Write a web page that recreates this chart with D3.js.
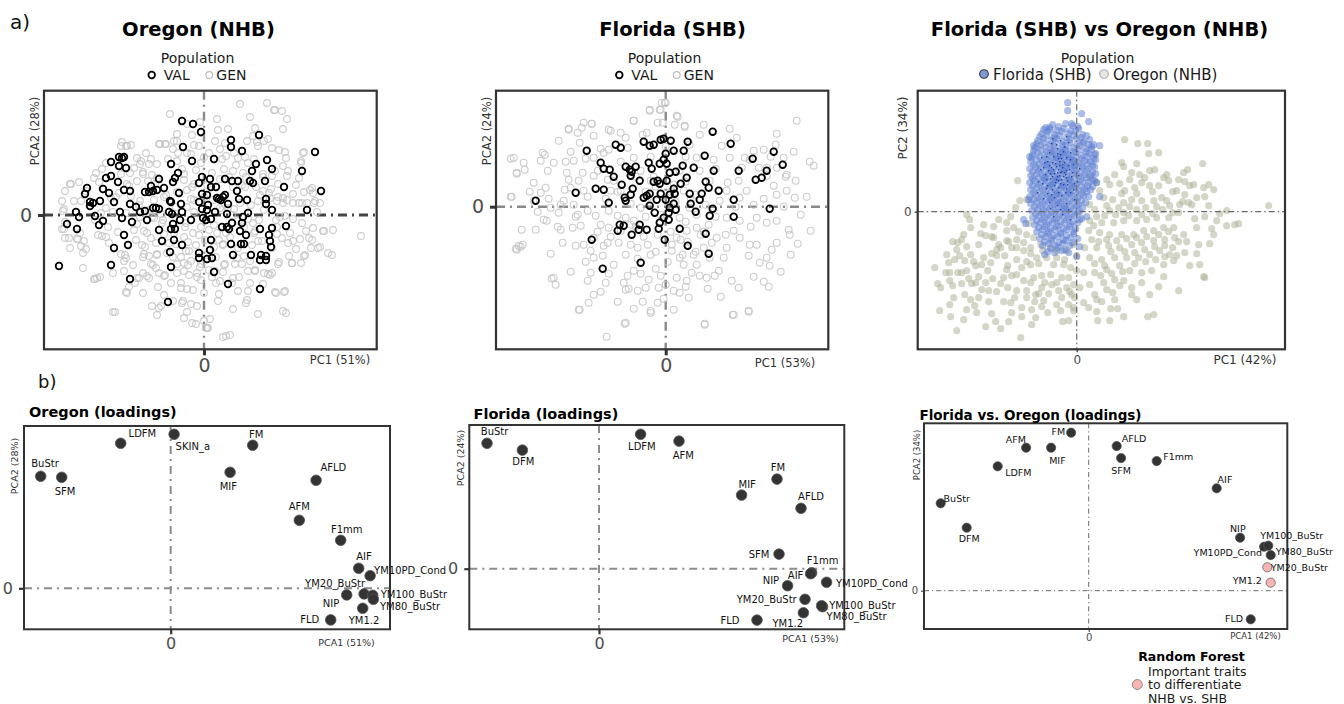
<!DOCTYPE html>
<html>
<head>
<meta charset="utf-8">
<script src="https://cdn.jsdelivr.net/npm/d3@7"></script>
<style>
  body { margin: 0; background: #fff; }
  svg { font-family: "DejaVu Sans", sans-serif; }
</style>
</head>
<body>
<svg id="fig" width="1344" height="704"></svg>
<script>
// ---------------- PCA scores: Oregon (NHB) ----------------
const oregonVAL = [[-2.2,9.4],[-1.1,9.1],[-0.3,8.3],[2.7,7.5],[2.7,6.8],[3.8,6.4],[5.5,8.0],[11.1,6.3],[-2.1,6.8],[1.0,5.6],[-1.2,5.4],[-3.3,5.1],[-9.3,5.3],[-8.5,5.8],[-8.2,5.7],[-8.0,5.8],[-7.8,4.7],[-8.5,4.9],[6.3,5.5],[5.2,5.1],[6.8,4.6],[4.8,4.4],[9.8,4.4],[11.7,2.4],[-9.8,3.7],[-9.3,3.9],[-8.6,3.3],[-11.7,2.7],[-11.9,2.1],[-10.1,2.6],[-9.5,2.2],[-10.4,1.4],[-9.0,1.3],[-8.0,2.5],[-7.4,2.4],[-7.4,1.1],[-11.4,1.3],[-11.1,1.2],[-11.4,0.9],[-12.8,0.3],[-12.5,-0.2],[-10.9,-0.1],[-13.7,-0.9],[-12.7,-1.4],[-10.5,-1.0],[-10.1,-0.6],[-8.4,0.3],[-8.2,-0.3],[-7.2,-0.7],[-6.8,0.8],[-6.4,0.3],[-5.9,0.4],[-5.7,-0.5],[-5.9,2.3],[-5.5,2.3],[-5.1,2.4],[-4.7,2.5],[-5.3,2.9],[-4.5,3.6],[-4.0,2.7],[-3.1,3.3],[-2.6,4.2],[-2.9,3.7],[-2.5,2.2],[-3.4,1.4],[-3.3,1.3],[-2.3,1.1],[-5.1,0.7],[-4.8,0.7],[-4.5,0.6],[-3.5,0.3],[-3.2,0.1],[-2.2,0.3],[-2.4,-0.5],[-3.1,-0.9],[-3.3,-1.4],[-2.9,-1.4],[-4.5,-1.5],[-4.2,-2.6],[-3.0,-2.5],[-2.2,-3.0],[-3.4,-3.7],[-1.3,-0.5],[-0.5,3.2],[-0.2,3.8],[0.6,3.6],[1.2,2.8],[0.7,2.8],[-0.2,2.1],[0.3,2.0],[-0.5,1.3],[0.4,1.0],[-0.2,0.6],[0.3,0.5],[1.1,0.3],[-0.1,-0.3],[0.2,-0.5],[0.7,-0.4],[1.3,1.7],[1.5,1.6],[1.7,1.5],[1.9,1.8],[2.1,2.0],[2.4,1.1],[2.3,0.1],[2.1,3.6],[2.8,3.4],[3.4,3.4],[4.6,3.4],[4.9,3.2],[6.1,3.4],[8.0,2.8],[3.3,2.4],[3.5,1.6],[4.3,1.5],[6.2,1.6],[6.2,1.1],[6.8,0.5],[4.4,0.2],[3.9,-0.2],[3.8,-0.8],[2.8,-0.8],[1.8,-1.2],[2.3,-1.2],[2.5,-1.4],[3.6,-1.6],[4.2,-2.0],[5.6,-1.4],[6.8,-1.3],[8.2,-1.1],[10.3,0.5],[4.0,-2.9],[2.7,-2.9],[3.7,-2.9],[4.7,-4.0],[2.9,-4.0],[5.7,-4.0],[6.2,-4.1],[6.2,-4.5],[5.6,-4.5],[6.5,-2.0],[6.6,-2.6],[6.7,-3.2],[0.7,-2.5],[0.6,-3.5],[-0.5,-3.8],[-0.5,-4.3],[0.3,-4.4],[0.8,-4.3],[1.0,-5.7],[2.4,-6.9],[5.6,-7.4],[-3.3,-5.2],[-3.6,-8.7],[-7.4,-6.4],[-9.3,-5.0],[-9.0,-3.3],[-7.6,-3.0],[-8.0,-2.0],[-14.5,-5.1]];

const oregonGEN = [[3.6,11.1],[6.3,11.2],[-3.4,10.1],[4.6,9.8],[7.1,10.5],[7.8,10.4],[8.3,9.6],[7.9,8.6],[5.1,8.7],[1.3,9.6],[2.4,8.6],[-0.4,9.3],[-1.2,8.0],[-2.7,7.4],[-3.1,6.6],[-4.4,7.1],[-3.9,7.1],[-5.8,6.2],[-8.3,6.9],[-7.8,6.9],[-7.3,7.0],[-6.7,5.7],[-6.4,5.1],[-5.5,5.1],[-4.7,5.1],[-7.0,4.7],[-7.4,4.2],[-6.1,4.1],[-10.8,4.2],[-10.5,3.3],[-12.5,3.3],[-13.4,3.1],[-13.9,2.4],[-14.2,1.4],[-14.1,0.4],[-13.9,-0.7],[-14.2,-1.4],[-13.9,-2.3],[-13.4,-3.3],[-12.6,-2.4],[-12.3,-3.1],[-12.1,-3.8],[-12.1,-5.3],[-10.4,-6.2],[-10.9,-6.4],[-9.1,-5.8],[-7.7,-7.8],[-7.5,-7.2],[-6.9,-6.8],[-6.7,-6.3],[-6.1,-7.8],[-5.7,-6.1],[-4.0,-8.0],[-2.1,-8.6],[-3.1,-8.6],[-5.2,-9.1],[-4.3,-9.1],[-9.1,-9.7],[-8.9,-9.7],[-1.7,-9.7],[-1.2,-10.8],[0.0,-10.6],[0.3,-11.3],[0.6,-10.4],[2.2,-12.1],[2.6,-12.0],[2.9,-9.4],[4.2,-8.8],[5.4,-9.9],[7.9,-9.6],[8.2,-9.8],[7.2,-7.8],[8.0,-7.7],[8.8,-4.8],[9.7,-4.8],[10.1,-4.0],[12.8,-4.0],[12.4,-3.8],[10.8,-2.5],[10.7,-3.3],[10.2,-1.6],[12.0,-1.6],[11.3,0.3],[11.6,1.2],[8.9,1.2],[9.5,1.2],[9.8,1.2],[11.0,1.2],[15.7,-2.1],[8.3,3.9],[9.2,3.0],[10.0,2.3],[10.6,2.5],[10.0,6.3],[9.7,5.2],[8.2,5.7],[8.1,6.3],[6.8,6.7],[6.0,7.4],[5.3,7.3],[4.9,7.9],[4.1,5.8],[3.2,5.0],[2.2,5.9],[1.8,5.6],[0.5,6.2],[0.0,5.8],[-0.3,5.2],[-1.7,6.2],[-2.2,4.6],[-4.9,3.1],[-5.6,3.4],[-7.7,3.1],[-7.3,1.9],[-6.4,1.4],[-9.1,0.3],[-10.3,0.2],[-10.9,-0.5],[-12.4,-1.8],[-10.6,-2.0],[-9.8,-2.2],[-8.6,-1.7],[-7.9,-4.0],[-7.1,-5.0],[-6.1,-4.2],[-5.5,-4.1],[-4.7,-4.0],[-5.1,-5.0],[-3.9,-6.0],[-2.7,-5.8],[-2.3,-6.8],[-1.1,-7.5],[0.0,-7.8],[1.5,-7.9],[1.2,-6.8],[1.9,-5.7],[2.9,-6.3],[3.5,-6.2],[4.4,-5.6],[5.1,-5.5],[6.0,-5.8],[6.6,-6.0],[7.5,-4.7],[8.5,-4.1],[9.2,-3.4],[9.6,-2.4],[8.6,-1.8],[7.3,-1.2],[7.6,-0.2],[7.9,1.2],[7.4,1.8],[6.7,2.6],[5.6,2.0],[4.7,1.0],[4.9,-0.8],[5.0,-1.8],[4.0,-4.1],[1.9,-3.0],[1.3,-1.8],[-1.1,-1.8],[-1.6,-2.7],[-1.5,-3.6],[-2.3,-4.2],[-3.1,-4.2],[-3.7,-3.8],[-4.8,-2.8],[-5.7,-1.8],[-6.4,-0.2],[-5.2,-0.2],[-4.1,-0.5],[-1.7,0.8],[-1.0,1.5],[-1.7,2.5],[-1.2,2.8],[-2.7,2.3],[3.6,1.2],[1.6,0.7],[2.9,2.8],[3.9,4.2],[5.9,3.8],[8.3,1.5],[10.9,2.2],[12.9,-1.5],[11.6,-3.2],[0.1,-2.5],[-0.4,-5.2],[-0.7,-6.2],[0.5,-5.5],[-1.6,-5.0],[-4.6,-7.2],[-6.1,-5.8],
[7.0,10.5],[1.4,8.5],[6.4,7.6],[4.3,7.4],[5.4,6.9],[7.5,6.5],[9.9,6.2],[9.7,5.4],[8.4,4.4],[9.5,3.7],[10.8,2.7],[8.9,2.1],[7.9,1.7],[7.3,1.4],[10.3,1.2],[11.1,1.4],[9.8,-0.8],[10.9,-1.3],[11.9,-1.6],[11.4,-3.3],[10.5,-2.3],[10.0,-4.1],[8.8,-4.8],[7.4,-4.9],[8.1,-7.6],[1.9,-12.2],[0.4,-11.3],[1.4,-8.6],[4.3,-8.5],[4.4,-7.6],[7.1,-7.7],[3.4,-7.6],[2.8,-6.8],[1.6,-6.6],[6.4,-5.9],[5.9,-6.9],[5.1,-5.6],[3.8,-4.9],[4.6,-4.6],[3.1,-4.9],[6.8,-5.8],[7.8,-2.3],[8.4,-2.8],[8.9,-2.6],[7.3,-1.9],[8.1,-0.1],[8.9,-0.4],[6.6,1.7],[5.9,2.4],[7.4,3.1],[7.9,4.9],[7.1,4.4],[5.9,4.1],[1.1,7.4],[2.1,7.2],[3.4,5.7],[4.4,5.2],[2.9,4.4],[1.6,3.6],[4.1,2.8],[5.4,1.4],[2.4,0.7],[4.4,-0.4],[5.4,-2.6],[1.9,-2.9],[0.8,-4.3],[2.1,-4.9],[1.1,-5.6],[3.4,-3.3],[5.1,-1.6],[6.8,-3.3],
[-8.2,7.3],[-7.7,6.9],[-4.5,7.1],[-3.8,7.1],[-3.0,7.4],[-5.3,5.6],[-6.3,5.4],[-6.1,4.3],[-9.8,5.2],[-10.2,4.6],[-11.0,3.7],[-13.3,3.1],[-11.8,2.4],[-13.0,1.4],[-14.0,0.6],[-12.3,1.4],[-9.8,0.7],[-9.3,1.7],[-8.5,2.2],[-7.5,2.9],[-14.0,-1.4],[-13.5,-2.3],[-12.0,-2.6],[-12.7,-2.4],[-11.8,-3.4],[-10.2,-2.1],[-9.5,-2.8],[-11.0,-6.4],[-10.7,-6.3],[-8.3,-3.9],[-7.8,-4.3],[-8.0,-4.6],[-8.0,-5.6],[-7.8,-7.7],[-6.5,-6.3],[-5.5,-6.3],[-4.5,-5.8],[-4.0,-6.1],[-5.3,-4.9],[-6.0,-3.9],[-4.7,-3.9],[-3.3,-6.8],[-2.3,-7.3],[-1.7,-7.4],[-1.3,-8.9],[-0.7,-9.1],[-2.2,-8.8],[-4.5,-9.3],[-4.7,-10.0],[-2.0,-10.3],[-0.8,-10.9],[0.2,-11.3],[-6.7,-0.9],[-6.0,-1.6],[-5.3,-2.3],[-4.0,-1.9],[-5.0,-0.3],[-4.3,0.1],[-2.8,-2.9],[-1.8,-3.6],[-1.3,-4.6],[-0.3,-4.9],[-0.7,-5.8],[-2.0,-5.6],[-2.7,-4.9],[-2.0,4.1],[-1.0,3.1],[-2.7,5.4],[-1.3,6.1],[-0.5,6.9],[-0.3,8.2],[-1.7,9.1],[-2.7,8.1],[-6.7,3.4],[-4.7,3.7],[-8.3,4.1],
[0.5,-1.5],[-1.0,0.3],[1.5,-2.5],[-0.8,-3.0],[2.2,-1.8],[0.9,1.5],[-1.9,-1.2],[3.0,0.6],[-0.3,-6.5],[1.2,-4.2],
[-6.5,1.0],[-5.0,1.5],[-3.8,2.0],[-2.0,3.5],[-0.8,4.5],[0.8,4.2],[2.5,3.8],[3.8,3.0],[5.2,2.8],[6.0,0.5],[5.5,-0.5],[4.0,-1.2],[2.6,-2.2],[1.0,-3.2],[-0.5,-2.0],[-1.8,-0.8],[-3.0,-1.8],[-4.2,-0.8],[-5.5,0.5],[-6.8,-2.5],[-5.9,-3.2],[-3.5,-2.8],[-2.0,-4.8],[0.2,-4.0],[2.0,-5.0],[3.3,-4.3],[4.8,-3.0],[5.8,-2.6],[7.2,-0.5],[6.5,2.2],[4.2,3.8],[2.0,4.6],[0.3,3.0],[-1.3,1.6],[-2.8,0.8],[-4.0,1.8],[-5.2,4.0],[-3.6,5.6],[-1.0,7.0],[1.6,6.6],[3.0,6.2],[-7.0,-1.5],[-8.8,1.8],[-9.6,-1.2],[-7.8,0.2],[0.0,1.8],[1.0,-1.0],[2.8,0.0],[-0.3,-1.2],[1.8,0.5],[3.4,-0.6],[-2.0,-2.2],[-1.5,-6.0],[0.8,-6.2],[4.6,-6.8],[-4.8,-5.3],[-6.2,-3.0],[-2.6,6.2],[5.0,5.6],[6.8,3.9]];

// ---------------- PCA scores: Florida (SHB) ----------------
const floridaVAL = [[4.7,7.5],[-2.2,6.5],[-1.6,6.1],[-1.2,6.2],[-0.5,6.7],[-0.2,6.8],[0.5,6.6],[2.2,6.5],[6.5,6.3],[-5.0,6.2],[-4.5,5.9],[-7.9,5.6],[0.0,5.3],[0.8,5.6],[1.8,5.6],[3.9,5.1],[8.7,4.8],[10.8,5.5],[11.7,4.2],[-6.5,4.4],[-6.2,3.8],[-5.6,3.7],[-5.2,3.0],[-4.0,4.0],[-3.6,3.7],[-3.4,3.5],[-3.5,3.1],[-3.0,4.0],[-2.6,2.6],[-1.7,4.4],[-1.4,3.8],[-0.6,4.3],[0.1,4.3],[-0.2,4.7],[0.4,3.4],[1.0,3.5],[1.7,4.1],[2.8,3.9],[4.8,3.6],[7.3,3.6],[10.1,3.6],[9.6,2.9],[9.0,2.7],[-4.4,2.2],[-7.0,1.8],[-6.2,1.7],[-9.0,1.4],[-13.0,0.6],[-5.7,0.4],[-4.1,0.9],[-4.0,0.6],[-3.5,1.2],[-3.3,1.8],[-2.2,0.9],[-1.9,1.1],[-1.6,1.3],[-1.2,2.5],[-0.8,2.6],[-0.6,2.3],[0.1,2.6],[-0.5,1.3],[0.0,0.7],[0.4,1.2],[0.8,1.8],[0.9,1.3],[1.5,2.3],[2.1,2.9],[0.8,0.3],[0.4,-0.1],[1.0,-0.3],[0.3,-0.6],[0.3,-1.3],[-0.2,-1.1],[-0.6,-1.6],[-0.7,-2.2],[-1.1,-0.6],[-1.6,0.1],[-0.9,0.7],[2.4,1.3],[2.5,0.3],[3.0,-0.5],[3.4,0.7],[3.6,1.3],[4.0,2.5],[4.3,1.9],[5.3,1.6],[4.7,-0.2],[4.4,-0.9],[6.8,0.7],[6.8,-1.0],[10.4,-0.2],[1.4,-2.2],[4.0,-2.7],[-0.1,-3.3],[2.2,-3.9],[4.3,-4.7],[-4.8,-2.4],[-4.6,-1.8],[-4.2,-1.9],[-3.4,-2.8],[-2.6,-1.8],[-2.7,-2.3],[-1.9,-2.3],[-7.4,-3.3],[-6.3,-6.2],[-2.5,-5.6]];

const floridaGEN = [[-15.2,4.9],[-14.2,4.4],[-14.9,3.4],[-14.1,3.7],[-15.5,1.0],[-13.2,2.4],[-12.3,5.4],[-12.1,5.2],[-12.5,4.6],[-11.2,4.4],[-11.8,3.6],[-12.0,1.9],[-12.5,1.4],[-13.2,0.6],[-11.7,0.8],[-11.5,-0.1],[-12.2,-1.3],[-11.9,-1.4],[-13.0,-2.3],[-14.4,-2.3],[-14.3,-3.8],[-14.9,-4.3],[-14.7,-3.9],[-11.5,-4.7],[-10.5,-2.3],[-10.3,-3.6],[-10.7,-0.6],[-10.2,0.6],[-10.1,1.7],[-9.7,2.7],[-9.9,3.4],[-10.0,4.5],[-10.7,6.6],[-9.7,7.7],[-8.8,7.4],[-8.4,7.9],[-8.2,8.4],[-7.4,8.3],[-7.2,7.1],[-8.6,6.4],[-9.2,4.6],[-8.3,3.4],[-8.7,2.6],[-9.2,0.2],[-8.8,-0.8],[-8.5,-1.9],[-9.3,-2.1],[-9.0,-3.9],[-8.2,-3.8],[-7.5,-4.4],[-7.2,-5.1],[-6.3,-4.9],[-6.2,-3.9],[-5.8,-3.6],[-7.2,-3.1],[-6.5,-1.8],[-7.8,-0.4],[-7.0,-0.9],[-5.7,-0.4],[-4.8,-0.9],[-4.0,-1.1],[-3.5,-1.8],[-4.5,-2.4],[-5.7,-2.1],[-4.7,-3.6],[-3.5,-3.8],[-2.8,-4.1],[-1.8,-3.8],[-1.5,-4.8],[-2.5,-5.6],[-3.2,-6.4],[-3.8,-6.9],[-4.2,-7.6],[-5.2,-5.8],[-5.7,-6.7],[-7.5,-6.6],[-7.8,-7.4],[-6.0,-7.6],[-7.2,-8.8],[-7.7,-9.6],[-8.7,-10.3],[-11.2,-7.1],[-11.0,-7.8],[-11.4,-7.2],[-4.0,-8.3],[-3.7,-8.2],[-2.8,-8.4],[-2.3,-9.5],[-1.5,-10.4],[-0.8,-9.6],[-4.0,-11.6],[-5.9,-13.0],[-2.0,-8.1],[-1.7,-7.3],[-0.7,-8.1],[-0.5,-6.9],[-2.5,-6.7],[-3.2,-1.4],[-2.5,-0.1],[-1.8,0.9],[-1.5,2.6],[-2.5,3.6],[-3.2,4.9],[-3.8,5.9],[-4.0,6.9],[-3.2,8.6],[-2.3,7.2],[-1.9,7.4],[-1.6,9.7],[-0.8,8.4],[-0.3,8.4],[-0.5,9.7],[-5.7,7.7],[-5.5,7.6],[-4.5,7.4],[-5.7,5.7],[-6.2,5.4],[-7.2,4.9],[-6.8,3.6],[-7.2,3.1],[-5.8,2.7],[-5.2,2.6],[-4.5,1.6],[-5.5,1.6],[-8.2,1.6],[-9.5,1.9],[-10.5,0.2],
[13.1,8.6],[11.1,7.3],[11.0,6.2],[14.4,4.5],[14.8,4.1],[13.0,2.6],[12.1,3.2],[12.0,3.0],[14.1,1.0],[12.9,0.9],[12.1,1.6],[11.1,1.2],[10.8,2.1],[10.1,3.1],[11.1,3.9],[11.8,4.9],[10.1,3.9],[9.3,3.9],[8.4,4.7],[7.9,4.9],[7.6,3.9],[8.8,5.6],[9.8,5.7],[7.1,6.9],[6.4,7.8],[5.6,6.1],[4.8,4.7],[6.4,4.9],[7.3,2.6],[8.1,1.6],[7.4,0.9],[8.8,0.2],[9.1,-1.1],[10.1,-1.6],[11.1,-1.4],[12.3,-2.3],[12.4,-2.8],[13.2,-3.7],[14.5,-2.4],[11.1,-3.6],[10.6,-4.3],[10.1,-5.1],[9.1,-3.8],[8.4,-3.8],[7.4,-3.1],[6.8,-2.4],[8.3,-4.9],[9.4,-5.6],[10.4,-5.9],[10.3,-8.0],[8.3,-10.4],[6.8,-10.8],[6.6,-7.4],[7.3,-8.1],[5.3,-6.4],[4.9,-6.9],[4.1,-7.1],[3.4,-6.9],[2.6,-6.6],[2.1,-7.4],[1.1,-7.1],[0.8,-8.4],[1.4,-8.6],[2.3,-9.1],[0.8,-10.3],[3.9,-11.8],[3.1,-5.8],[4.4,-5.1],[5.8,-5.1],[6.1,-4.1],[5.1,-3.1],[3.8,-4.1],[2.8,-4.8],[1.4,-5.1],[0.6,-4.4],[1.1,-3.1],[2.1,-2.4],[3.1,-2.1],[4.3,-1.8],[6.1,-1.1],[7.4,-1.4],[5.4,0.6],[6.1,1.6],[4.4,2.6],[3.4,3.6],[3.1,4.9],[2.4,6.2],[3.8,8.2],[3.4,7.2],[1.9,8.1],[1.1,9.1],[0.9,8.2],[-0.1,10.4],[1.4,3.6],[1.8,1.6],[2.4,-0.1],[3.1,-0.8],[1.4,-1.1],
[8.3,-10.5],[6.7,-10.8],[3.9,-11.7],[-4.1,-11.7],[-8.6,-10.3],[-1.5,-10.6],[-0.4,10.4],[0.0,10.4],[-1.6,9.6],[-0.6,9.7],[1.2,9.0],[1.9,8.0],[-3.2,8.6],[-9.7,7.8],[-7.4,8.3],[-15.5,4.8],[-14.9,3.3],[-15.4,1.0],[-15.0,-4.2],[-14.5,-4.0],
[-0.5,-1.5],[0.5,-2.5],[1.5,-3.3],[-1.0,-4.5],[0.2,-5.5],[2.0,-1.5],[1.0,0.5],[-2.0,1.5],[-3.0,-2.0],[2.5,0.8],[-1.2,3.0],[0.8,2.2],[3.5,-2.8],[-2.2,-3.0],[1.7,-4.8],
[-1.0,2.0],[0.5,1.5],[2.0,2.5],[3.0,1.2],[4.0,0.2],[5.0,-1.0],[3.8,-2.5],[2.2,-3.5],[0.6,-3.8],[-0.8,-2.8],[-2.0,-1.0],[-3.5,0.3],[-4.8,1.5],[-6.0,0.8],[-6.8,-2.5],[-5.5,-3.0],[-4.0,-4.8],[-2.8,-5.2],[-1.0,-6.2],[0.0,-7.8],[1.8,-5.8],[3.0,-4.5],[4.6,-3.6],[6.0,-2.8],[7.0,0.0],[6.2,2.4],[5.0,3.8],[2.0,5.0],[0.0,6.0],[-1.5,5.0],[-3.0,3.0],[-4.5,4.5],[-6.5,5.8],[-8.0,4.8],[-9.5,5.5],[-7.8,1.0],[-9.0,-1.0],[-10.8,-2.0],[-12.8,-0.5],[-13.6,1.5],[-8.0,-5.5],[-9.5,-6.5],[-6.5,-8.5],[-4.8,-9.5],[-3.2,-10.2],[-0.2,-9.2],[2.0,-8.0],[4.2,-8.2],[5.5,-9.0],[8.8,-7.0],[9.8,-7.5],[11.5,-6.5],[12.5,-4.8],[13.5,-0.8],[11.8,0.0],[9.8,0.8],[8.5,-2.0],[10.5,5.0],[12.8,5.5],[-0.5,-0.8]];

// ---------------- PCA scores: both regions together ----------------
const combinedOregon = [[-5.9,3.1],[-5.7,1.1],[-5.0,1.2],[-6.1,0.4],[-11.0,-0.3],[-10.7,-0.8],[-9.3,-1.3],[-10.6,-1.6],[-8.5,-2.5],[-11.3,-2.3],[-12.4,-3.0],[-12.0,-3.8],[-11.5,-2.8],[-11.0,-3.5],[-10.6,-4.3],[-9.8,-3.3],[-11.7,-4.4],[-12.8,-5.1],[-14.2,-5.6],[-12.7,-6.1],[-13.1,-6.1],[-13.9,-7.2],[-13.6,-7.6],[-12.7,-6.9],[-11.9,-6.1],[-11.5,-6.1],[-12.3,-8.6],[-12.7,-9.3],[-13.7,-9.9],[-12.0,-11.9],[-11.0,-9.8],[-10.0,-10.1],[-10.2,-9.4],[-11.2,-8.3],[-10.5,-7.2],[-9.5,-7.8],[-8.8,-7.9],[-8.0,-8.0],[-9.1,-7.1],[-8.9,-5.9],[-9.5,-5.3],[-8.6,-5.1],[-8.0,-4.4],[-8.0,-3.8],[-7.0,-2.9],[-7.0,-1.9],[-7.0,-1.1],[-6.3,-1.6],[-6.0,-2.8],[-6.5,-3.6],[-7.2,-4.4],[-6.9,-5.4],[-7.3,-6.6],[-6.9,-7.6],[-6.6,-9.1],[-7.3,-9.0],[-8.1,-11.0],[-9.1,-11.5],[-7.6,-11.7],[-6.5,-10.1],[-5.6,-12.6],[-5.5,-9.6],[-4.5,-9.8],[-4.5,-11.3],[-4.1,-10.6],[-4.2,-9.0],[-3.3,-8.9],[-2.9,-10.1],[-1.6,-9.9],[-1.4,-11.0],[-0.8,-10.9],[-0.3,-9.9],[-0.8,-9.3],[-1.8,-7.9],[-2.5,-7.3],[-3.5,-7.6],[-4.1,-8.3],[-5.0,-7.9],[-6.0,-7.9],[-5.3,-6.9],[-4.3,-6.6],[-3.5,-6.4],[-2.6,-6.3],[-1.5,-6.6],[-0.8,-6.6],[-0.5,-8.3],[-0.3,-7.3],[-0.6,-5.6],[-1.3,-5.3],[-2.3,-5.3],[-3.0,-4.6],[-4.0,-4.6],[-4.6,-5.3],[-5.5,-5.6],[-6.0,-4.8],[-5.3,-3.9],[-4.6,-3.6],[-5.3,-3.1],[-6.0,-3.6],[-5.0,-2.3],[-4.3,-2.6],[-3.6,-3.3],[-2.6,-3.6],[-2.0,-3.9],[-1.0,-3.9],[-0.3,-3.3],[-8.3,-2.6],[-7.8,-3.3],[-9.1,-2.4],[-10.1,-5.4],[-11.0,-5.9],[-10.1,-7.1],[-6.0,-6.3],[-6.5,-6.4],
[4.8,7.2],[6.1,6.8],[7.1,6.8],[7.2,5.8],[8.2,5.9],[12.6,4.8],[11.1,4.2],[10.7,3.9],[4.5,4.9],[4.7,4.5],[6.0,4.8],[7.3,4.1],[6.3,3.7],[5.5,3.9],[5.3,3.2],[3.8,3.7],[3.0,3.2],[3.3,2.7],[4.3,2.8],[4.8,2.1],[5.8,2.4],[6.5,2.9],[7.3,2.6],[8.2,2.6],[9.2,3.1],[10.2,3.2],[10.8,3.0],[11.3,2.6],[11.7,2.7],[12.7,2.4],[13.2,2.7],[13.7,2.2],[12.8,1.5],[13.2,0.6],[11.2,0.9],[11.5,0.7],[10.3,0.7],[9.3,0.6],[8.5,1.4],[7.7,1.1],[6.5,1.1],[5.5,1.2],[4.7,0.9],[3.6,1.2],[2.7,1.4],[15.0,0.1],[19.2,0.6],[16.2,-1.2],[15.8,-1.3],[15.0,-1.4],[14.0,-0.9],[13.5,-1.7],[13.7,-2.3],[12.0,-1.6],[12.2,-3.3],[13.3,-3.2],[10.8,-4.1],[11.3,-5.4],[12.3,-5.3],[12.7,-6.5],[12.8,-6.6],[10.2,-7.9],[8.7,-6.5],[8.2,-7.5],[7.3,-8.3],[7.7,-10.3],[7.1,-10.5],[4.7,-10.5],[4.1,-9.7],[3.4,-9.7],[3.3,-10.9],[2.1,-10.9],[2.0,-10.0],[2.5,-9.0],[0.7,-9.1],[1.8,-8.3],[3.6,-8.1],[5.5,-8.3],[5.5,-7.6],[6.5,-7.1],[4.7,-6.9],[3.8,-6.8],[2.7,-7.1],[1.3,-7.3],[0.3,-7.6],[0.7,-6.1],[1.8,-6.1],[3.0,-5.8],[4.3,-5.4],[5.3,-5.9],[6.5,-6.1],[7.5,-5.9],[8.7,-5.3],[9.7,-4.9],[9.3,-4.3],[8.3,-3.9],[7.3,-4.3],[6.2,-4.6],[5.0,-4.6],[3.8,-4.6],[2.5,-4.8],[1.3,-4.6],[0.8,-3.6],[2.0,-3.6],[3.2,-3.4],[4.3,-3.6],[5.5,-3.3],[6.5,-3.1],[7.7,-2.9],[8.8,-2.8],[9.8,-2.6],[10.7,-2.3],[9.7,-1.6],[8.7,-1.6],[7.7,-1.9],[6.7,-1.9],[5.7,-2.3],[4.5,-2.3],[3.3,-2.3],[2.3,-2.1],[1.2,-1.9],[1.3,-0.9],[2.5,-1.1],[3.7,-1.1],[4.7,-0.9],[6.0,-0.9],[7.0,-0.8],[8.0,-0.6],[9.2,-0.6],[10.2,-0.1],[6.0,0.2],[4.7,-0.1],[3.3,0.1],[1.8,0.2],[1.3,0.7],[2.3,2.1],[2.0,2.9],[1.3,3.4],[7.8,4.2],[9.0,3.7],[10.0,2.1],[10.8,1.7],[12.0,1.4],[0.0,-4.4],[0.0,-5.9],[-0.2,-8.6],[-0.3,-9.6],
[2.8,-0.4],[3.9,-0.3],[5.2,-0.4],[6.5,-0.3],[7.6,-0.2],[8.6,0.2],[9.6,-0.1],[2.2,-3.0],[3.0,-2.8],[4.0,-2.9],[5.0,-2.7],[6.0,-2.6],[7.0,-2.5],[8.2,-2.3],[9.2,-2.0],[10.2,-3.0],[1.8,-5.2],[2.8,-5.4],[3.4,-4.0],[4.8,-4.0],[5.8,-4.1],[6.8,-3.8],[7.8,-3.5],[8.8,-3.4],[9.6,-3.6],[10.0,-4.4],[2.4,-6.4],[3.5,-6.2],[4.6,-6.0],[5.8,-5.2],[6.9,-5.0],[7.9,-4.8],[8.8,-4.5],[1.5,-2.8],[1.7,-1.4],[2.0,-0.5],[3.0,0.6],[4.2,0.4],[5.3,0.5],[6.9,0.4],[8.0,0.5],[9.0,1.1],[10.6,1.0],[11.8,-0.7],[12.8,-0.5],[14.3,-0.2],[3.0,-7.8],[4.3,-7.4],[6.0,-8.8],[2.0,-8.8],[1.2,-9.6],[3.8,-8.8],[12.0,-4.2],[11.0,-3.0],[4.5,1.8],[6.0,1.8],[7.6,2.0],[9.6,2.0],[8.7,3.4],[6.8,3.4],
[-12.2,-4.8],[-11.2,-4.9],[-10.3,-5.0],[-9.3,-4.6],[-8.5,-4.2],[-7.6,-3.6],[-6.8,-3.0],[-12.4,-7.4],[-11.5,-7.2],[-10.8,-6.7],[-9.8,-6.5],[-8.4,-6.7],[-7.6,-7.2],[-6.2,-8.6],[-5.0,-8.6],[-3.8,-8.2],[-2.8,-8.2],[-1.5,-8.6],[-4.6,-7.1],[-3.2,-7.1],[-2.0,-7.1],[-1.0,-7.6],[-5.5,-10.5],[-6.8,-11.0],[-8.8,-9.0],[-9.8,-8.6],[-7.0,-5.8],[-5.0,-5.0],[-3.8,-5.2],[-2.0,-4.6],[-1.2,-4.8],[-4.6,-4.2],[-3.4,-3.9],[-7.8,-0.8],[-6.6,-0.5],[-8.3,-1.5],[-9.6,-2.2],[-11.9,-3.1],[-13.0,-4.3],[-10.6,-8.8],[-12.6,-10.5],[-11.3,-10.8],[-8.5,-10.2],[-3.5,-9.5],[-2.0,-9.3],[-0.7,-8.0],[-5.8,-2.0],[-4.8,-1.2]];

const combinedFlorida = [[-3.1,8.4],[-2.4,8.7],[-1.8,8.5],[-1.1,8.8],[-0.4,8.6],[0.2,8.3],
[-3.5,7.8],[-2.9,8.0],[-2.2,7.7],[-1.5,8.0],[-0.8,7.8],[-0.1,8.0],[0.6,7.7],
[-3.9,7.1],[-3.3,7.3],[-2.6,7.1],[-2.0,7.3],[-1.4,7.0],[-0.7,7.2],[0.0,7.3],[0.7,7.0],[1.3,7.2],
[-4.2,6.4],[-3.6,6.6],[-3.0,6.4],[-2.3,6.6],[-1.7,6.3],[-1.1,6.6],[-0.4,6.4],[0.3,6.6],[0.9,6.3],[1.5,6.5],
[-4.4,5.7],[-3.9,5.9],[-3.2,5.7],[-2.6,5.9],[-2.0,5.6],[-1.4,5.9],[-0.8,5.7],[-0.1,5.9],[0.5,5.6],[1.2,5.8],[1.8,5.7],
[-4.6,5.0],[-4.0,5.2],[-3.4,5.0],[-2.8,5.2],[-2.2,4.9],[-1.6,5.2],[-1.0,5.0],[-0.4,5.2],[0.2,4.9],[0.8,5.1],[1.4,5.0],[1.9,5.2],
[-4.7,4.3],[-4.1,4.5],[-3.6,4.3],[-3.0,4.5],[-2.4,4.2],[-1.8,4.5],[-1.2,4.3],[-0.6,4.5],[0.0,4.2],[0.6,4.4],[1.2,4.3],[1.8,4.5],
[-4.6,3.6],[-4.0,3.8],[-3.4,3.6],[-2.8,3.8],[-2.2,3.5],[-1.6,3.8],[-1.0,3.6],[-0.4,3.8],[0.2,3.5],[0.8,3.7],[1.4,3.6],[1.9,3.8],
[-4.7,2.9],[-4.2,3.1],[-3.6,2.9],[-3.0,3.1],[-2.4,2.8],[-1.8,3.1],[-1.2,2.9],[-0.6,3.1],[0.0,2.8],[0.6,3.0],[1.2,2.9],[1.8,3.1],
[-4.6,2.2],[-4.0,2.4],[-3.4,2.2],[-2.8,2.4],[-2.2,2.1],[-1.6,2.4],[-1.0,2.2],[-0.4,2.4],[0.2,2.1],[0.8,2.3],[1.4,2.2],
[-4.7,1.5],[-4.1,1.7],[-3.5,1.5],[-2.9,1.7],[-2.3,1.4],[-1.7,1.7],[-1.1,1.5],[-0.5,1.7],[0.1,1.4],[0.7,1.6],[1.2,1.5],
[-4.6,0.8],[-4.0,1.0],[-3.4,0.8],[-2.8,1.0],[-2.2,0.7],[-1.6,1.0],[-1.0,0.8],[-0.4,1.0],[0.2,0.7],[0.9,0.9],
[-4.5,0.1],[-3.9,0.3],[-3.3,0.1],[-2.7,0.3],[-2.1,0.0],[-1.5,0.3],[-0.9,0.1],[-0.3,0.3],[0.3,0.0],
[-4.4,-0.6],[-3.8,-0.4],[-3.2,-0.6],[-2.6,-0.4],[-2.0,-0.7],[-1.4,-0.4],[-0.8,-0.6],[-0.2,-0.4],[0.5,-0.7],
[-4.2,-1.3],[-3.6,-1.1],[-3.0,-1.3],[-2.4,-1.1],[-1.8,-1.4],[-1.2,-1.1],[-0.6,-1.3],[0.1,-1.1],
[-4.0,-2.0],[-3.4,-1.8],[-2.8,-2.0],[-2.2,-1.8],[-1.6,-2.1],[-1.0,-1.8],[-0.3,-2.0],
[-3.7,-2.7],[-3.1,-2.5],[-2.5,-2.7],[-1.9,-2.5],[-1.3,-2.8],[-0.6,-2.6],[0.1,-2.7],
[-3.4,-3.4],[-2.8,-3.2],[-2.1,-3.4],[-1.4,-3.2],[-0.7,-3.4],
[-2.9,-4.0],[-2.2,-4.1],[-1.5,-3.9],[-0.8,-4.1],
[-0.9,10.9],[-0.9,10.1],[0.5,9.8],[1.2,9.0],[-4.3,6.6],[-3.3,8.2],[1.7,6.7],[2.3,6.6],[2.0,2.9],[2.3,1.5],[1.0,-0.5],[0.3,-3.5],[0.0,-4.5],[-3.2,-4.3],[-5.3,-0.8],[-5.1,-1.2],[-4.8,1.2],[-2.7,8.4],[-0.5,8.8],[1.9,5.8],[-4.7,5.5],
[-2.5,4.0],[-1.9,3.3],[-1.3,4.1],[-0.7,3.2],[-2.1,5.4],[-1.5,4.8],[-0.9,5.5],[-2.7,2.6],[-2.0,1.8],[-1.4,2.6],[-0.8,1.9],[-0.2,4.6],[-1.1,6.1],[-2.4,6.0],[-1.8,0.9],[-1.2,0.3],[-2.9,4.7],[-3.2,3.4],[-0.5,2.6],[-1.6,5.6],[-2.3,3.0],[-1.0,4.4],[-0.4,5.1],[-2.6,1.3],
[-2.7,8.2],[-2.0,8.1],[-1.3,8.3],[-0.6,8.1],[0.1,8.5],
[-3.7,7.5],[-3.0,7.6],[-2.3,7.4],[-1.7,7.6],[-1.0,7.4],[-0.3,7.6],[0.4,7.4],[1.0,7.6],
[-4.0,6.8],[-3.3,6.9],[-2.7,6.7],[-2.1,6.9],[-1.4,6.7],[-0.7,6.9],[0.0,6.7],[0.6,6.9],[1.2,6.7],
[-4.3,6.1],[-3.6,6.2],[-3.0,6.0],[-2.3,6.2],[-1.7,6.0],[-1.1,6.2],[-0.4,6.0],[0.2,6.2],[0.9,6.0],[1.5,6.2],
[-4.5,5.4],[-3.7,5.5],[-3.1,5.3],[-2.5,5.5],[-1.9,5.3],[-1.3,5.5],[-0.7,5.3],[-0.1,5.5],[0.5,5.3],[1.1,5.5],[1.7,5.3],
[-4.3,4.7],[-3.7,4.8],[-3.1,4.6],[-2.5,4.8],[-1.9,4.6],[-1.3,4.8],[-0.7,4.6],[-0.1,4.8],[0.5,4.6],[1.1,4.8],[1.6,4.6],
[-4.4,4.0],[-3.8,4.1],[-3.2,3.9],[-2.6,4.1],[-2.0,3.9],[-1.4,4.1],[-0.8,3.9],[-0.2,4.1],[0.4,3.9],[1.0,4.1],[1.6,3.9],
[-4.4,3.3],[-3.8,3.4],[-3.2,3.2],[-2.6,3.4],[-2.0,3.2],[-1.4,3.4],[-0.8,3.2],[-0.2,3.4],[0.4,3.2],[1.0,3.4],[1.6,3.2],
[-4.4,2.6],[-3.8,2.7],[-3.2,2.5],[-2.5,2.7],[-1.9,2.5],[-1.3,2.7],[-0.7,2.5],[-0.1,2.7],[0.5,2.5],[1.1,2.6],[1.6,2.5],
[-4.3,1.9],[-3.7,2.0],[-3.1,1.8],[-2.5,2.0],[-1.9,1.8],[-1.3,2.0],[-0.7,1.8],[-0.1,2.0],[0.5,1.8],[1.0,2.0],
[-4.3,1.2],[-3.7,1.3],[-3.1,1.1],[-2.5,1.3],[-1.9,1.1],[-1.3,1.3],[-0.7,1.1],[-0.1,1.3],[0.5,1.1],
[-4.2,0.5],[-3.6,0.6],[-3.0,0.4],[-2.4,0.6],[-1.8,0.4],[-1.2,0.6],[-0.6,0.4],[0.0,0.6],[0.6,0.4],
[-4.1,-0.2],[-3.5,-0.1],[-2.9,-0.3],[-2.3,-0.1],[-1.7,-0.3],[-1.1,-0.1],[-0.5,-0.3],[0.1,-0.1],
[-4.0,-0.9],[-3.4,-0.8],[-2.8,-1.0],[-2.2,-0.8],[-1.6,-1.0],[-1.0,-0.8],[-0.4,-1.0],[0.3,-0.8],
[-3.8,-1.6],[-3.2,-1.5],[-2.6,-1.7],[-2.0,-1.5],[-1.3,-1.7],[-0.7,-1.5],[-0.1,-1.7],
[-3.5,-2.3],[-2.9,-2.2],[-2.3,-2.4],[-1.6,-2.2],[-1.0,-2.4],[-0.3,-2.2],
[-3.2,-3.0],[-2.5,-2.9],[-1.8,-3.1],[-1.1,-2.9],[-0.4,-3.1],
[-2.6,-3.7],[-1.9,-3.6],[-1.2,-3.8]];

const combinedFloridaCore = [[-1.8,4.2],[-1.6,3.9],[-2.0,4.5],[-1.4,4.4],[-2.2,3.8],[-1.9,3.5],[-1.5,3.2],[-1.1,3.7],[-2.4,4.9],[-1.7,5.0],[-1.2,4.9],[-2.6,3.3],[-2.1,2.9],[-1.3,2.7],[-0.9,3.1],[-0.7,4.2],[-2.8,4.1],[-2.3,5.5],[-1.6,5.7],[-1.0,5.4],[-2.9,2.6],[-2.4,2.2],[-1.8,2.4],[-1.0,2.3],[-0.5,3.5],[-3.1,3.7],[-3.2,4.9],[-2.7,5.9],[-1.9,6.3],[-1.2,6.5],[-0.6,5.9],[-0.3,4.7],[-0.2,2.8],[-0.6,1.9],[-1.5,1.6],[-2.2,1.4],[-2.9,1.8],[-3.4,2.8],[-3.6,4.2],[-3.0,5.5],[-2.5,6.8],[-1.6,7.1],[-0.8,6.9],[0.0,6.0],[0.3,4.3],[0.1,3.0],[-0.2,1.2],[-1.0,0.8],[-1.9,0.6],[-2.7,0.9],[-3.3,1.3],[-1.4,-0.3],[-0.6,-0.8],[-2.3,-0.5],[-1.7,4.6],[-2.0,3.2],[-1.3,3.5],[-2.5,4.4],[-1.0,4.1],[-1.8,5.3],
[-1.5,4.0],[-1.9,3.9],[-2.3,4.2],[-1.7,3.6],[-1.2,3.9],[-2.1,4.8],[-1.5,5.3],[-2.6,3.8],[-1.0,3.4],[-1.8,3.1],[-2.4,3.5],[-1.4,4.7],[-0.8,4.6],[-2.7,4.6],[-1.9,5.8],[-2.2,2.6],[-1.6,2.8],[-0.9,2.7],[-3.0,3.2],[-2.9,5.0],[-0.4,3.9],[-0.6,5.2],[-1.3,6.0],[-2.0,6.7],[-3.3,4.4],[-1.1,1.9],[-1.8,1.9],[-2.5,1.7],[-0.3,2.2],[-3.0,2.3],[0.2,3.6],[0.0,5.2],[-3.5,5.4],[-2.4,7.3],[-1.0,7.5],[-1.6,0.2],[-2.6,0.3],[-0.8,0.2],[-3.8,3.0],[-3.9,1.9]];

// ---------------- trait loadings [trait, PC1, PC2] ----------------
const oregonLoadings = [["LDFM",-0.25,0.725],["SKIN_a",0.017,0.77],["FM",0.41,0.715],["BuStr",-0.65,0.56],["SFM",-0.545,0.555],["MIF",0.297,0.58],["AFLD",0.727,0.54],["AFM",0.643,0.34],["F1mm",0.85,0.24],["AIF",0.94,0.1],["YM10PD_Cond",0.997,0.063],["NIP",0.88,-0.033],["YM20_BuStr",0.967,-0.028],["YM100_BuStr",1.01,-0.035],["YM80_BuStr",1.013,-0.055],["YM1.2",0.96,-0.1],["FLD",0.80,-0.158]];
const floridaLoadings = [["BuStr",-0.56,0.627],["DFM",-0.383,0.593],["LDFM",0.208,0.672],["AFM",0.40,0.638],["FM",0.89,0.448],["MIF",0.713,0.368],["AFLD",1.01,0.302],["SFM",0.90,0.073],["F1mm",1.063,-0.02],["AIF",1.058,-0.025],["YM10PD_Cond",1.138,-0.068],["NIP",0.943,-0.085],["YM20_BuStr",1.03,-0.153],["YM100_BuStr",1.118,-0.19],["YM80_BuStr",1.113,-0.185],["YM1.2",1.022,-0.22],["FLD",0.79,-0.257]];
const combinedLoadings = [["FM",-0.088,0.79],["AFM",-0.313,0.715],["MIF",-0.188,0.715],["LDFM",-0.455,0.622],["AFLD",0.14,0.723],["SFM",0.162,0.663],["F1mm",0.34,0.648],["AIF",0.64,0.512],["BuStr",-0.74,0.437],["DFM",-0.61,0.315],["NIP",0.757,0.265],["YM10PD_Cond",0.877,0.22],["YM100_BuStr",0.898,0.225],["YM80_BuStr",0.91,0.178],["YM20_BuStr",0.893,0.117],["YM1.2",0.91,0.04],["FLD",0.81,-0.143]];
const rfImportant = ["YM20_BuStr","YM1.2"];

const zeroTick = [0];

// ---------------- drawing ----------------
const svg = d3.select("#fig");
let clipId = 0;

function panelScales(p) {
  return {
    x: d3.scaleLinear().domain(p.xd).range([p.frame[0], p.frame[2]]),
    y: d3.scaleLinear().domain(p.yd).range([p.frame[3], p.frame[1]])
  };
}

function zeroLines(g, s, p) {
  const f = p.frame;
  g.append("line").attr("x1", f[0]).attr("x2", f[2]).attr("y1", s.y(0)).attr("y2", s.y(0))
    .attr("stroke", p.hz.color).attr("stroke-width", p.hz.w).attr("stroke-dasharray", p.hz.dash);
  g.append("line").attr("y1", f[1]).attr("y2", f[3]).attr("x1", s.x(0)).attr("x2", s.x(0))
    .attr("stroke", p.vz.color).attr("stroke-width", p.vz.w).attr("stroke-dasharray", p.vz.dash);
}

function frameAndAxes(g, s, p) {
  const f = p.frame;
  g.append("rect").attr("x", f[0]).attr("y", f[1]).attr("width", f[2] - f[0]).attr("height", f[3] - f[1])
    .attr("fill", "none").attr("stroke", "#333").attr("stroke-width", p.frameW);
  const ax = g.append("g").attr("transform", `translate(0,${f[3]})`)
    .call(d3.axisBottom(s.x).tickValues(zeroTick).tickFormat(d3.format("d")).tickSize(p.tick.size).tickPadding(p.tick.padX));
  const ay = g.append("g").attr("transform", `translate(${f[0]},0)`)
    .call(d3.axisLeft(s.y).tickValues(zeroTick).tickFormat(d3.format("d")).tickSize(p.tick.size).tickPadding(p.tick.padY));
  [ax, ay].forEach(a => {
    a.select(".domain").remove();
    a.selectAll("line").attr("stroke", "#333").attr("stroke-width", p.tick.w);
    a.selectAll("text").attr("font-family", "DejaVu Sans, sans-serif").attr("font-size", p.tick.font).attr("fill", "#4d4d4d");
  });
  // axis titles
  g.append("text").attr("transform", `translate(${p.yTitle[0]},${p.yTitle[1]}) rotate(-90)`)
    .attr("text-anchor", "middle").attr("dominant-baseline", "central")
    .attr("font-size", p.titleFont).attr("fill", "#333").text(p.yLab);
  g.append("text").attr("x", p.xTitle[0]).attr("y", p.xTitle[1])
    .attr("text-anchor", "middle").attr("dominant-baseline", "central")
    .attr("font-size", p.titleFont).attr("fill", "#333").text(p.xLab);
}

function clipFor(g, p) {
  const id = "clip" + (clipId++);
  const f = p.frame;
  svg.append("defs").append("clipPath").attr("id", id).append("rect")
    .attr("x", f[0]).attr("y", f[1]).attr("width", f[2] - f[0]).attr("height", f[3] - f[1]);
  return g.append("g").attr("clip-path", `url(#${id})`);
}

// --- top row: score plots ---
const dashThickTop = { color: "#8a8a8a", w: 2.4, dash: "9,5,2,5" };
const topPanels = [
  { frame: [44, 90.7, 376.7, 349.3], xd: [-16, 17.27], yd: [-13.43, 12.43],
    hz: { color: "#454545", w: 2.8, dash: "9,5,2,5" }, vz: dashThickTop, frameW: 2.2,
    tick: { size: 6, padX: 3, padY: 6, w: 3, font: 19 }, titleFont: 11.5,
    yLab: "PCA2 (28%)", xLab: "PC1 (51%)", yTitle: [35, 131], xTitle: [340, 359.5],
    title: "Oregon (NHB)", titleX: 198.5, legX: 197.5, open: true, val: oregonVAL, gen: oregonGEN,
    leg: [[151.7, "VAL", "val"], [209.3, "GEN", "gen"]] },
  { frame: [496, 90.7, 828.3, 349.3], xd: [-16.97, 16.26], yd: [-14.26, 11.6],
    hz: dashThickTop, vz: dashThickTop, frameW: 2.2,
    tick: { size: 6, padX: 3, padY: 6, w: 3, font: 19 }, titleFont: 11.5,
    yLab: "PCA2 (24%)", xLab: "PC1 (53%)", yTitle: [486.5, 131], xTitle: [785, 363],
    title: "Florida (SHB)", titleX: 672.5, legX: 664.5, open: true, val: floridaVAL, gen: floridaGEN,
    leg: [[619.3, "VAL", "val"], [676.7, "GEN", "gen"]] },
  { frame: [917.7, 90.7, 1285, 349.3], xd: [-15.9, 20.83], yd: [-13.76, 12.1],
    hz: { color: "#6a6a6a", w: 1.2, dash: "6,3,1.5,3" }, vz: { color: "#6a6a6a", w: 1.2, dash: "6,3,1.5,3" }, frameW: 2.2,
    tick: { size: 3, padX: 3, padY: 3, w: 1.2, font: 12 }, titleFont: 12,
    yLab: "PC2 (34%)", xLab: "PC1 (42%)", yTitle: [902.5, 128], xTitle: [1245, 359.5],
    title: "Florida (SHB) vs Oregon (NHB)", titleX: 1099.5, legX: 1097.5, open: false }
];

topPanels.forEach(p => {
  const g = svg.append("g");
  const s = panelScales(p);
  // title + legend
  g.append("text").attr("x", p.titleX).attr("y", 35.5).attr("text-anchor", "middle")
    .attr("font-size", 19.5).attr("font-weight", "bold").attr("fill", "#000").text(p.title);
  g.append("text").attr("x", p.legX).attr("y", 62.5).attr("text-anchor", "middle")
    .attr("font-size", 14).attr("fill", "#1a1a1a").text("Population");

  const pts = clipFor(g, p);
  if (p.open) {
    zeroLines(pts, s, p);
    pts.selectAll("circle.gen").data(p.gen).join("circle").attr("class", "gen")
      .attr("cx", d => s.x(d[0])).attr("cy", d => s.y(d[1])).attr("r", 3.4)
      .attr("fill", "none").attr("stroke", "#c4c4c4").attr("stroke-opacity", 0.85).attr("stroke-width", 1.1);
    pts.selectAll("circle.val").data(p.val).join("circle").attr("class", "val")
      .attr("cx", d => s.x(d[0])).attr("cy", d => s.y(d[1])).attr("r", 3.3)
      .attr("fill", "none").attr("stroke", "#000").attr("stroke-width", 1.8);
    p.leg.forEach(([cx, lab, kind]) => {
      g.append("circle").attr("cx", cx).attr("cy", 75).attr("r", kind === "val" ? 3.3 : 3.4)
        .attr("fill", "none").attr("stroke", kind === "val" ? "#000" : "#bdbdbd")
        .attr("stroke-width", kind === "val" ? 1.8 : 1.1);
      g.append("text").attr("x", cx + (kind === "val" ? 12 : 7)).attr("y", 80)
        .attr("font-size", 14).attr("fill", "#1a1a1a").text(lab);
    });
  } else {
    pts.selectAll("circle.or").data(combinedOregon).join("circle").attr("class", "or")
      .attr("cx", d => s.x(d[0])).attr("cy", d => s.y(d[1])).attr("r", 3.6)
      .attr("fill", "#a9ae92").attr("fill-opacity", 0.5);
    pts.selectAll("circle.fl").data(combinedFlorida).join("circle").attr("class", "fl")
      .attr("cx", d => s.x(d[0])).attr("cy", d => s.y(d[1])).attr("r", 3.6)
      .attr("fill", "#5a7ccf").attr("fill-opacity", 0.5);
    pts.selectAll("circle.core").data(combinedFloridaCore).join("circle").attr("class", "core")
      .attr("cx", d => s.x(d[0])).attr("cy", d => s.y(d[1])).attr("r", 0.8)
      .attr("fill", "#1b3c9c");
    zeroLines(pts, s, p);
    g.append("circle").attr("cx", 984).attr("cy", 74).attr("r", 4.3)
      .attr("fill", "#7f98d6").attr("stroke", "#333").attr("stroke-width", 1.1);
    g.append("text").attr("x", 993).attr("y", 79.5).attr("font-size", 15).attr("fill", "#1a1a1a").text("Florida (SHB)");
    g.append("circle").attr("cx", 1104).attr("cy", 74).attr("r", 4.3)
      .attr("fill", "#e6e6e1").attr("stroke", "#aaa").attr("stroke-width", 1.1);
    g.append("text").attr("x", 1113).attr("y", 79.5).attr("font-size", 15).attr("fill", "#1a1a1a").text("Oregon (NHB)");
  }
  frameAndAxes(g, s, p);
});

// --- bottom row: loading plots ---
const labelNudge = {
  oregon: { LDFM:[21.7,-10], SKIN_a:[18.7,11.7], FM:[3.4,-11], BuStr:[4.3,-12.7], SFM:[3.3,14], MIF:[-1.7,14.4],
    AFLD:[17.3,-13.3], AFM:[0,-14], F1mm:[6,-10.7], AIF:[5.3,-11.6], YM10PD_Cond:[4,-5.7,"start"],
    YM20_BuStr:[-29,-10.7], YM100_BuStr:[8,-1.3,"start"], YM80_BuStr:[6.7,7.4,"start"], NIP:[-15.7,8.3],
    "YM1.2":[1.3,11.7], FLD:[-21,-0.7] },
  florida: { BuStr:[7.6,-11.6], DFM:[1,11], LDFM:[1.3,11.7], AFM:[4.3,14], FM:[1,-11.3], MIF:[5.6,-11],
    AFLD:[10,-11.6], SFM:[-20,0], F1mm:[11,-12], AIF:[-15,2], YM10PD_Cond:[9.3,1,"start"], NIP:[-16.7,-5],
    YM20_BuStr:[-38.3,0], YM100_BuStr:[6.6,-1,"start"], YM80_BuStr:[5,10.7,"start"], "YM1.2":[-15.6,10.6], FLD:[-27,0] },
  combined: { FM:[-12.7,-1], AFM:[-10.3,-8.4], MIF:[6.3,13], LDFM:[20.6,6], AFLD:[17.3,-7.7], SFM:[0,12],
    F1mm:[21.6,-4.7], AIF:[8.3,-8.6], BuStr:[16,-5], DFM:[2.6,10.6], NIP:[-2.3,-9.4], YM10PD_Cond:[-36.3,6],
    YM100_BuStr:[23.4,-10.7], YM80_BuStr:[33.6,-3.3], YM20_BuStr:[32,0], "YM1.2":[-23.4,-2.7], FLD:[-16.7,-1] }
};

const dashLoad = { color: "#8c8c8c", w: 2, dash: "8,5,2,5" };
const bottomPanels = [
  { key: "oregon", data: oregonLoadings, frame: [24, 426, 390, 629.3], xd: [-0.7335, 1.0965], yd: [-0.205, 0.8115],
    hz: dashLoad, vz: dashLoad, frameW: 2, tick: { size: 5, padX: 3, padY: 6, w: 2.2, font: 16 }, titleFont: 9.5,
    yLab: "PCA2 (28%)", xLab: "PCA1 (51%)", yTitle: [14.5, 466], xTitle: [346.5, 642],
    title: "Oregon (loadings)", titleX: 29, titleY: 416.5, titleSize: 14.5, r: 5.3, labFont: 10 },
  { key: "florida", data: floridaLoadings, frame: [469.3, 425, 844.3, 629.3], xd: [-0.6485, 1.2265], yd: [-0.303, 0.7185],
    hz: dashLoad, vz: dashLoad, frameW: 2, tick: { size: 5, padX: 3, padY: 6, w: 2.2, font: 16 }, titleFont: 9.5,
    yLab: "PCA2 (24%)", xLab: "PCA1 (53%)", yTitle: [460, 458], xTitle: [810.5, 638],
    title: "Florida (loadings)", titleX: 473.5, titleY: 419, titleSize: 14.5, r: 5.3, labFont: 10 },
  { key: "combined", data: combinedLoadings, frame: [924, 423.3, 1287.3, 629], xd: [-0.8235, 0.993], yd: [-0.1915, 0.837],
    hz: { color: "#6a6a6a", w: 1, dash: "5,3,1.2,3" }, vz: { color: "#6a6a6a", w: 1, dash: "5,3,1.2,3" },
    frameW: 2, tick: { size: 3, padX: 2, padY: 3, w: 1, font: 10 }, titleFont: 8.5,
    yLab: "PCA2 (34%)", xLab: "PCA1 (42%)", yTitle: [916.5, 455], xTitle: [1255.5, 636],
    title: "Florida vs. Oregon (loadings)", titleX: 919.5, titleY: 420, titleSize: 13.5, r: 4.6, labFont: 9.5 }
];

bottomPanels.forEach(p => {
  const g = svg.append("g");
  const s = panelScales(p);
  zeroLines(g, s, p);
  frameAndAxes(g, s, p);
  g.append("text").attr("x", p.titleX).attr("y", p.titleY).attr("font-size", p.titleSize)
    .attr("font-weight", "bold").attr("fill", "#000").text(p.title);
  g.selectAll("circle.ld").data(p.data).join("circle").attr("class", "ld")
    .attr("cx", d => s.x(d[1])).attr("cy", d => s.y(d[2])).attr("r", p.r)
    .attr("fill", d => p.key === "combined" && rfImportant.includes(d[0]) ? "#f6b5b3" : "#333")
    .attr("stroke", d => p.key === "combined" && rfImportant.includes(d[0]) ? "#666" : "#555")
    .attr("stroke-width", 0.8);
  const nudge = labelNudge[p.key];
  g.selectAll("text.lab").data(p.data).join("text").attr("class", "lab")
    .attr("x", d => s.x(d[1]) + nudge[d[0]][0]).attr("y", d => s.y(d[2]) + nudge[d[0]][1])
    .attr("text-anchor", d => nudge[d[0]][2] || "middle").attr("dominant-baseline", "central")
    .attr("font-size", p.labFont).attr("fill", "#111").text(d => d[0]);
});

// Random Forest legend
const rf = svg.append("g");
rf.append("text").attr("x", 1191.5).attr("y", 661).attr("text-anchor", "middle")
  .attr("font-size", 12.5).attr("font-weight", "bold").attr("fill", "#000").text("Random Forest");
rf.append("circle").attr("cx", 1137.3).attr("cy", 684.5).attr("r", 5)
  .attr("fill", "#f6b5b3").attr("stroke", "#777").attr("stroke-width", 0.8);
["Important traits", "to differentiate", "NHB vs. SHB"].forEach((t, i) => {
  rf.append("text").attr("x", 1148).attr("y", 675.5 + i * 13.5).attr("font-size", 12.5).attr("fill", "#1a1a1a").text(t);
});

// panel letters
svg.append("text").attr("x", 10).attr("y", 29).attr("font-size", 20).attr("fill", "#111").text("a)");
svg.append("text").attr("x", 38).attr("y", 388).attr("font-size", 18).attr("fill", "#111").text("b)");
</script>
</body>
</html>
